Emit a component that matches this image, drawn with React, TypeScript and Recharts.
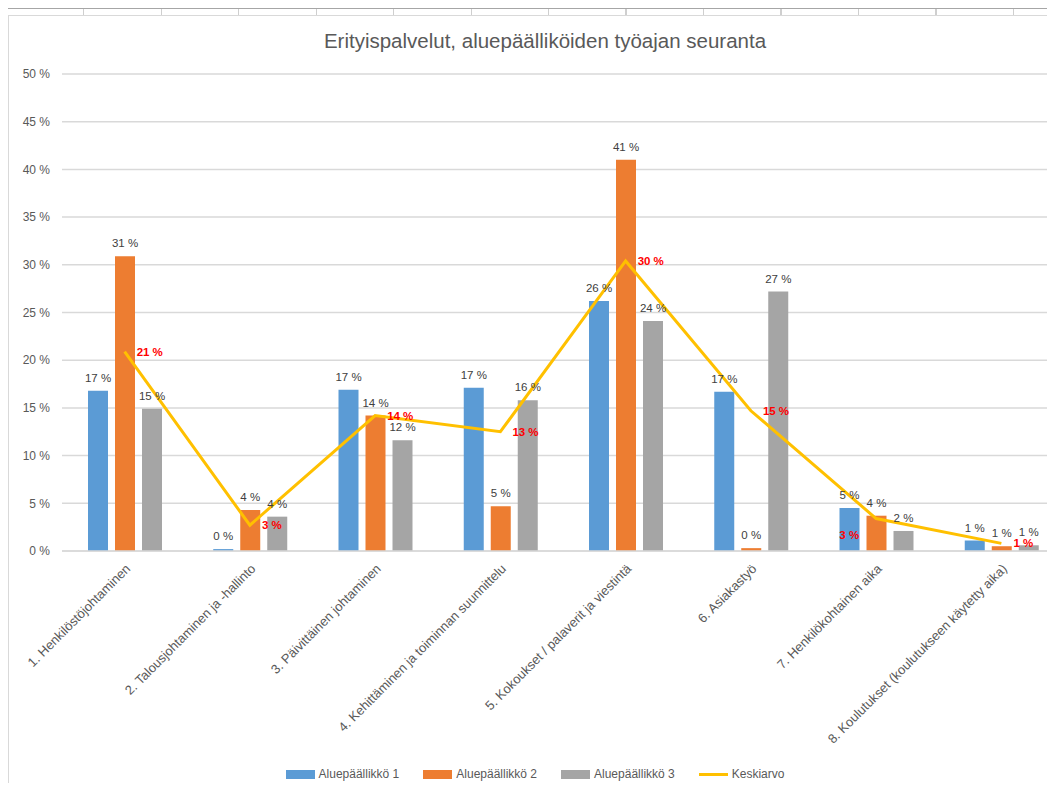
import React from 'react';
import { ComposedChart, Bar, Line, XAxis, YAxis, CartesianGrid, Legend, LabelList } from 'recharts';

const categories = [
  '1. Henkilöstöjohtaminen',
  '2. Talousjohtaminen ja -hallinto',
  '3. Päivittäinen johtaminen',
  '4. Kehittäminen ja toiminnan suunnittelu',
  '5. Kokoukset / palaverit ja viestintä',
  '6. Asiakastyö',
  '7. Henkilökohtainen aika',
  '8. Koulutukset (koulutukseen käytetty aika)',
];

const alue1 = [16.8, 0.2, 16.9, 17.1, 26.2, 16.7, 4.5, 1.1];
const alue2 = [30.9, 4.3, 14.2, 4.7, 41.0, 0.3, 3.7, 0.5];
const alue3 = [14.9, 3.6, 11.6, 15.8, 24.1, 27.2, 2.1, 0.6];
const keskiarvo = [20.9, 2.7, 14.2, 12.5, 30.4, 14.7, 3.4, 0.8];

const yTicks = [0, 5, 10, 15, 20, 25, 30, 35, 40, 45, 50];

const data = categories.map((name, i) => ({
  name,
  a1: alue1[i],
  a2: alue2[i],
  a3: alue3[i],
  avg: keskiarvo[i],
}));

const FONT = '"Liberation Sans", Arial, sans-serif';
const pct = (v: number) => `${Math.round(v)} %`;

// value above each bar, kept on one line
const barLabel = (props: any) => {
  const { x, y, width, value } = props;
  return (
    <text x={x + width / 2} y={y - 9} textAnchor="middle" fill="#404040" fontSize={11.5} fontFamily={FONT}>
      {pct(value)}
    </text>
  );
};

// red average labels, the 7th one sits left-below the point like in the original
const avgLabel = (props: any) => {
  const { x, y, value, index } = props;
  const left = index === 6;
  return (
    <text
      x={left ? x - 17 : x + 12}
      y={left ? y + 17 : y + 1}
      textAnchor={left ? 'end' : 'start'}
      dominantBaseline="middle"
      fill="#FF0000"
      fontWeight="bold"
      fontSize={11.5}
      fontFamily={FONT}
    >
      {pct(value)}
    </text>
  );
};

const renderLegend = (props: any) => {
  const { payload } = props;
  return (
    <div style={{ display: 'flex', justifyContent: 'center', gap: 24, fontSize: 12, color: '#595959', fontFamily: FONT }}>
      {payload.map((item: any) => (
        <span key={item.value} style={{ display: 'flex', alignItems: 'center' }}>
          <svg width={29} height={9}>
            {item.type === 'line' ? (
              <line x1={0} y1={4.5} x2={29} y2={4.5} stroke={item.color} strokeWidth={3} />
            ) : (
              <rect x={0} y={0} width={29} height={9} fill={item.color} />
            )}
          </svg>
          <span style={{ marginLeft: 4 }}>{item.value}</span>
        </span>
      ))}
    </div>
  );
};

export default function App() {
  return (
    <div style={{ position: 'relative', width: 1055, height: 791, margin: -8, overflow: 'hidden', background: '#fff' }}>
      {/* spreadsheet row above the chart */}
      <div
        style={{
          position: 'absolute', left: 8, top: 8, width: 1047, height: 7,
          borderTop: '1px solid #a6a6a6',
          background: 'repeating-linear-gradient(to right, transparent 0px, transparent 75px, #cfcfcf 75px, #cfcfcf 76.5px, transparent 76.5px, transparent 77.5px)',
        }}
      />
      <div
        style={{
          position: 'absolute', left: 8, top: 15, width: 1047, height: 776,
          borderLeft: '1px solid #d9d9d9', borderTop: '1px solid #d9d9d9',
        }}
      />
      <div
        style={{
          position: 'absolute', left: 0, top: 29, width: 1090, textAlign: 'center',
          fontFamily: FONT, fontSize: 20.5, color: '#595959',
        }}
      >
        Erityispalvelut, aluepäälliköiden työajan seuranta
      </div>
      <div style={{ position: 'absolute', left: 0, top: 0 }}>
        <ComposedChart
          width={1070}
          height={791}
          data={data}
          margin={{ top: 74, right: 6, bottom: 0, left: 0 }}
          barSize={20}
          barGap={7}
        >
          <CartesianGrid vertical={false} stroke="#d9d9d9" strokeWidth={1.5} />
          <XAxis
            dataKey="name"
            height={240}
            interval={0}
            axisLine={{ stroke: '#d9d9d9', strokeWidth: 1.5 }}
            tickLine={false}
            tickMargin={6}
            angle={-45}
            textAnchor="end"
            tick={{ fontSize: 13, fill: '#595959', fontFamily: FONT }}
          />
          <YAxis
            width={62}
            domain={[0, 50]}
            ticks={yTicks}
            axisLine={false}
            tickLine={false}
            tickMargin={6}
            tickFormatter={(v: number) => `${v} %`}
            tick={{ fontSize: 12, fill: '#595959', fontFamily: FONT }}
          />
          <Legend
            verticalAlign="middle"
            content={renderLegend}
            wrapperStyle={{ top: 767, left: 0, width: 1070 }}
          />
          <Bar dataKey="a1" name="Aluepäällikkö 1" fill="#5B9BD5" isAnimationActive={false}>
            <LabelList dataKey="a1" content={barLabel} />
          </Bar>
          <Bar dataKey="a2" name="Aluepäällikkö 2" fill="#ED7D31" isAnimationActive={false}>
            <LabelList dataKey="a2" content={barLabel} />
          </Bar>
          <Bar dataKey="a3" name="Aluepäällikkö 3" fill="#A5A5A5" isAnimationActive={false}>
            <LabelList dataKey="a3" content={barLabel} />
          </Bar>
          <Line
            dataKey="avg"
            name="Keskiarvo"
            type="linear"
            stroke="#FFC000"
            strokeWidth={3}
            dot={false}
            isAnimationActive={false}
          >
            <LabelList dataKey="avg" content={avgLabel} />
          </Line>
        </ComposedChart>
      </div>
    </div>
  );
}
